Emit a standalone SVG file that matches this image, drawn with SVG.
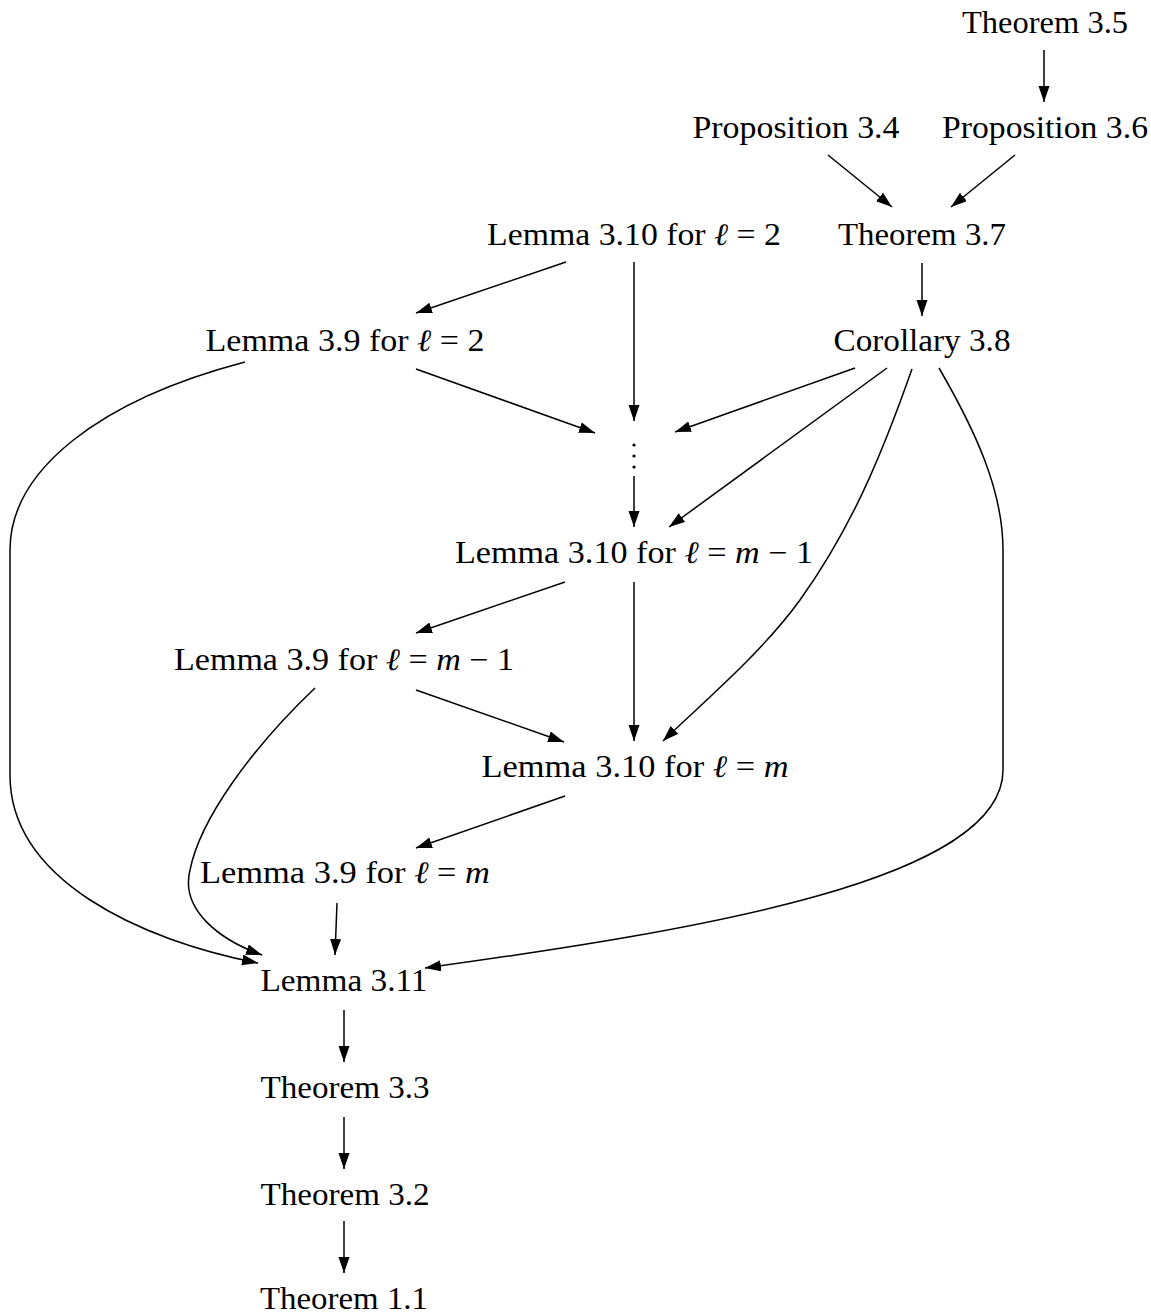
<svg xmlns="http://www.w3.org/2000/svg" width="1151" height="1315" viewBox="0 0 1151 1315">
<style>
text{font-family:"Liberation Serif","DejaVu Serif",serif;font-size:31px;fill:#000;text-anchor:middle}
.i{font-style:italic}
.e{fill:none;stroke:#000;stroke-width:1.5}
</style>
<defs>
<marker id="a" markerUnits="userSpaceOnUse" markerWidth="17" markerHeight="12" refX="16" refY="5.5" orient="auto">
<path d="M0,0 L16,5.5 L0,11 z" fill="#000"/>
</marker>
</defs>
<rect width="1151" height="1315" fill="#fff"/>
<g id="connectors">
<path class="e" marker-end="url(#a)" d="M1044,50 L1044,102"/>
<path class="e" marker-end="url(#a)" d="M828,155 L892,207"/>
<path class="e" marker-end="url(#a)" d="M1015,155 L951,207"/>
<path class="e" marker-end="url(#a)" d="M566,262 L416,313"/>
<path class="e" marker-end="url(#a)" d="M634,262 L634,421"/>
<path class="e" marker-end="url(#a)" d="M922,263 L922,316"/>
<path class="e" marker-end="url(#a)" d="M416,369 L595,433"/>
<path class="e" marker-end="url(#a)" d="M855,368 L675,432"/>
<path class="e" marker-end="url(#a)" d="M887,368 L669,527"/>
<path class="e" marker-end="url(#a)" d="M912,369 C880,460 850,530 800,600 C760,655 700,705 663,741"/>
<path class="e" marker-end="url(#a)" d="M939,368 C975,430 1003,490 1003,550 L1003,770 C1003,880 700,930 425,968"/>
<path class="e" marker-end="url(#a)" d="M245,362 C100,400 10,470 10,550 L10,775 C10,880 140,940 258,963"/>
<path class="e" marker-end="url(#a)" d="M634,476 L634,527"/>
<path class="e" marker-end="url(#a)" d="M565,582 L416,633"/>
<path class="e" marker-end="url(#a)" d="M634,582 L634,741"/>
<path class="e" marker-end="url(#a)" d="M416,690 L564,742"/>
<path class="e" marker-end="url(#a)" d="M315,688 C250,750 200,820 190,870 C180,910 220,940 262,955"/>
<path class="e" marker-end="url(#a)" d="M565,796 L416,848"/>
<path class="e" marker-end="url(#a)" d="M337,903 L335,955"/>
<path class="e" marker-end="url(#a)" d="M344,1010 L344,1062"/>
<path class="e" marker-end="url(#a)" d="M344,1117 L344,1169"/>
<path class="e" marker-end="url(#a)" d="M344,1221 L344,1273"/>
</g>
<g id="thm35"><text x="1045" y="33" textLength="166" lengthAdjust="spacingAndGlyphs">Theorem 3.5</text></g>
<g id="prop34"><text x="796" y="138" textLength="207" lengthAdjust="spacingAndGlyphs">Proposition 3.4</text></g>
<g id="prop36"><text x="1045" y="138" textLength="206" lengthAdjust="spacingAndGlyphs">Proposition 3.6</text></g>
<g id="lem310_2"><text x="634" y="245" textLength="294" lengthAdjust="spacingAndGlyphs">Lemma 3.10 for <tspan class="i">ℓ</tspan> = 2</text></g>
<g id="thm37"><text x="922" y="245" textLength="168" lengthAdjust="spacingAndGlyphs">Theorem 3.7</text></g>
<g id="lem39_2"><text x="345" y="351" textLength="279" lengthAdjust="spacingAndGlyphs">Lemma 3.9 for <tspan class="i">ℓ</tspan> = 2</text></g>
<g id="cor38"><text x="922" y="351" textLength="177" lengthAdjust="spacingAndGlyphs">Corollary 3.8</text></g>
<g id="dots"><circle cx="634" cy="445" r="1.6"/><circle cx="634" cy="456" r="1.6"/><circle cx="634" cy="467" r="1.6"/></g>
<g id="lem310_m1"><text x="634" y="563" textLength="358" lengthAdjust="spacingAndGlyphs">Lemma 3.10 for <tspan class="i">ℓ</tspan> = <tspan class="i">m</tspan> − 1</text></g>
<g id="lem39_m1"><text x="344" y="670" textLength="340" lengthAdjust="spacingAndGlyphs">Lemma 3.9 for <tspan class="i">ℓ</tspan> = <tspan class="i">m</tspan> − 1</text></g>
<g id="lem310_m"><text x="635" y="777" textLength="307" lengthAdjust="spacingAndGlyphs">Lemma 3.10 for <tspan class="i">ℓ</tspan> = <tspan class="i">m</tspan></text></g>
<g id="lem39_m"><text x="345" y="883" textLength="290" lengthAdjust="spacingAndGlyphs">Lemma 3.9 for <tspan class="i">ℓ</tspan> = <tspan class="i">m</tspan></text></g>
<g id="lem311"><text x="344" y="991" textLength="167" lengthAdjust="spacingAndGlyphs">Lemma 3.11</text></g>
<g id="thm33"><text x="345" y="1098" textLength="169" lengthAdjust="spacingAndGlyphs">Theorem 3.3</text></g>
<g id="thm32"><text x="345" y="1205" textLength="169" lengthAdjust="spacingAndGlyphs">Theorem 3.2</text></g>
<g id="thm11"><text x="344" y="1309" textLength="168" lengthAdjust="spacingAndGlyphs">Theorem 1.1</text></g>
</svg>
